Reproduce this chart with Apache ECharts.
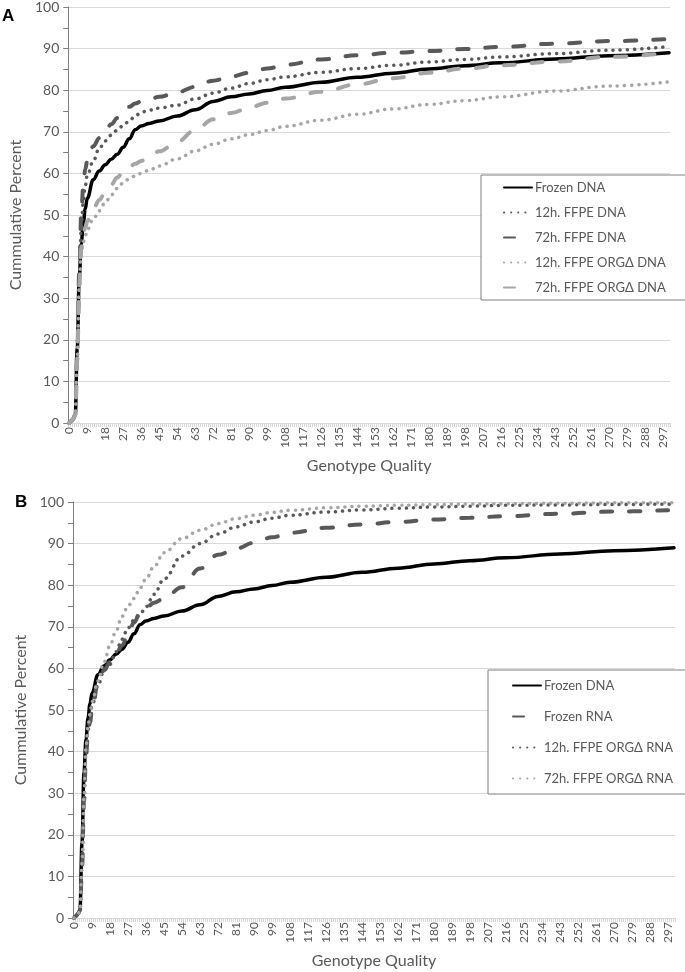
<!DOCTYPE html>
<html><head><meta charset="utf-8">
<script src="https://cdn.jsdelivr.net/npm/echarts@6/dist/echarts.min.js"></script>
<style>html,body{margin:0;padding:0;background:#fff}#c{width:685px;height:972px}</style>
</head><body><div id="c"></div>
<script>
// Genotype Quality sample positions (category index = GQ value)
const gq = [0,1,2,3,4,5,6,7,8,9,12,15,18,21,24,27,30,33,36,40,45,54,63,72,81,90,99,108,126,144,162,180,198,216,243,270,300];
const categoryCount = 301;

// Panel A
const frozenDNA   = [0,0.5,1,2,18,35,43,48,51.5,54,58.5,60.6,62.1,63.4,64.6,66.3,68.3,70.5,71.4,72,72.6,73.8,75.3,77.3,78.4,79.1,79.9,80.7,81.9,83.1,84.1,85.1,85.9,86.6,87.5,88.3,89];
const ffpe12DNA   = [0,0.5,1,2,16,34,47,53,57,59.5,63,66,67.8,69.2,70.4,71.5,72.6,73.8,74.7,75.2,75.7,76.4,77.9,79.3,80.5,81.6,82.5,83.2,84.3,85.2,86,86.8,87.4,88,88.8,89.6,90.5];
const ffpe72DNA   = [0,0.5,1,2,17,36,50,57,61,63,66.5,68.5,70.2,71.8,73.3,74.8,76,76.8,77.3,77.8,78.4,79.5,80.8,82.3,83.3,84.2,85.2,86.1,87.4,88.4,89,89.4,89.9,90.4,91.2,91.8,92.3];
const org12DNA    = [0,0.5,1,2,15,32,41,43.5,45,46.5,49,51,53,54.8,56.4,57.7,58.7,59.4,60,60.8,61.8,63.5,65.4,67,68.3,69.3,70.3,71.3,72.8,74.2,75.5,76.6,77.5,78.4,79.8,81,82];
const org72DNA    = [0,0.5,1,2,15,33,42,45,47,48.5,51.5,53.6,55.5,57.3,59,60.4,61.5,62.3,63,64,65.3,67.6,70.4,73,74.5,75.8,77,78,79.6,81.4,82.9,84.2,85.2,86,86.9,88,89];

// Panel B
const frozenRNA   = [0,0.5,1,1.8,12,28,39,44,47,50,56.5,59.5,61.5,63.5,65.5,68,71,73.3,74.5,75.8,76.8,79.5,84,87.3,88.8,90.2,91.5,92.6,93.8,94.6,95.2,95.8,96.2,96.6,97.2,97.7,98.1];
const org12RNA    = [0,0.5,1,1.8,12,28,40,45,48.5,51,56,59.5,61,64,67,69.7,71.6,73,74.8,77.8,81.5,87,90,92.3,94,95.2,96.1,96.8,97.6,98.1,98.5,98.8,99,99.2,99.3,99.4,99.5];
const org72RNA    = [0,0.5,1,1.8,13,29,41,46,49,52,57,61.5,65.5,69,72.5,75,76.8,79.3,81.5,84.5,87.8,91.2,93.2,94.8,96,96.8,97.5,98,98.6,99,99.2,99.4,99.5,99.6,99.7,99.8,99.8];

const namesA = ['Frozen DNA','12h. FFPE DNA','72h. FFPE DNA','12h. FFPE ORGΔ DNA','72h. FFPE ORGΔ DNA'];
const namesB = ['Frozen DNA','Frozen RNA','12h. FFPE ORGΔ RNA','72h. FFPE ORGΔ RNA'];

const cats = Array.from({length: categoryCount}, (_, i) => String(i));
const FONT = 'Lato, "Noto Sans", sans-serif';
const TXT = '#595959';
const pairs = ys => gq.map((x, i) => [x, ys[i]]);

const solid  = c => ({color: c, width: 3.5, type: 'solid', cap: 'round', join: 'round'});
const dotted = c => ({color: c, width: 3.5, type: [0.1, 7], cap: 'round'});
const dashed = c => ({color: c, width: 4, type: [11, 17], cap: 'round'});

function mkSeries(name, ys, ls, idx) {
  return {name, type: 'line', xAxisIndex: idx, yAxisIndex: idx, data: pairs(ys),
    smooth: 0.4, smoothMonotone: 'x', showSymbol: false, symbol: 'none',
    lineStyle: ls, itemStyle: {color: ls.color}, animation: false};
}

function xAxisCfg(idx) {
  return {type: 'category', gridIndex: idx, data: cats, boundaryGap: true,
    name: 'Genotype Quality', nameLocation: 'middle', nameGap: 35,
    nameTextStyle: {fontFamily: FONT, fontSize: 16, color: TXT},
    axisLine: {lineStyle: {color: '#d9d9d9', width: 1}},
    axisTick: {show: true, interval: 0, length: 4, lineStyle: {color: '#d9d9d9'}},
    axisLabel: {interval: 8, rotate: 90, fontFamily: FONT, fontSize: 12, color: TXT, margin: 4},
    splitLine: {show: false}};
}
function yAxisCfg(idx) {
  return {type: 'value', gridIndex: idx, min: 0, max: 100, interval: 10,
    name: 'Cummulative Percent', nameLocation: 'middle', nameGap: 32,
    nameTextStyle: {fontFamily: FONT, fontSize: 16, color: TXT},
    axisLine: {show: true, lineStyle: {color: '#7f7f7f', width: 1}},
    axisTick: {show: true, length: 5, lineStyle: {color: '#7f7f7f'}},
    minorTick: {show: true, splitNumber: 2, length: 5, lineStyle: {color: '#7f7f7f'}},
    axisLabel: {fontFamily: FONT, fontSize: 14, color: TXT, margin: 9},
    splitLine: {lineStyle: {color: '#d9d9d9', width: 1}}};
}

const legendBase = {orient: 'vertical', backgroundColor: '#fff', borderColor: '#7f7f7f', borderWidth: 1,
  itemWidth: 28, itemHeight: 14, itemStyle: {opacity: 0, borderWidth: 0},
  textStyle: {fontFamily: FONT, fontSize: 13, color: TXT, padding: [0,0,0,-2]},
  selectedMode: false};

const option = {
  backgroundColor: '#fff',
  animation: false,
  grid: [
    {left: 68, right: 15, top: 7, height: 416},
    {left: 73, right: 10, top: 502, height: 416}
  ],
  graphic: [
    {type: 'text', left: 2, top: 8, style: {text: 'A', font: 'bold 17px "Liberation Sans", Arial, sans-serif', fill: '#000'}},
    {type: 'text', left: 15, top: 494, style: {text: 'B', font: 'bold 17px "Liberation Sans", Arial, sans-serif', fill: '#000'}}
  ],
  xAxis: [xAxisCfg(0), xAxisCfg(1)],
  yAxis: [yAxisCfg(0), yAxisCfg(1)],
  legend: [
    Object.assign({}, legendBase, {data: namesA, left: 481, top: 175, itemGap: 12, padding: [6, 23, 6, 22]}),
    Object.assign({}, legendBase, {data: namesB, left: 488, top: 670, itemGap: 18, padding: [9, 24, 9, 24]})
  ],
  series: [
    mkSeries(namesA[0], frozenDNA, solid('#000000'), 0),
    mkSeries(namesA[1], ffpe12DNA, dotted('#595959'), 0),
    mkSeries(namesA[2], ffpe72DNA, dashed('#595959'), 0),
    mkSeries(namesA[3], org12DNA, dotted('#a6a6a6'), 0),
    mkSeries(namesA[4], org72DNA, dashed('#a6a6a6'), 0),
    mkSeries(namesB[0], frozenDNA, solid('#000000'), 1),
    mkSeries(namesB[1], frozenRNA, dashed('#595959'), 1),
    mkSeries(namesB[2], org12RNA, dotted('#595959'), 1),
    mkSeries(namesB[3], org72RNA, dotted('#a6a6a6'), 1)
  ]
};
const chart = echarts.init(document.getElementById('c'), null, {renderer: 'canvas'});
chart.setOption(option);
</script></body></html>
